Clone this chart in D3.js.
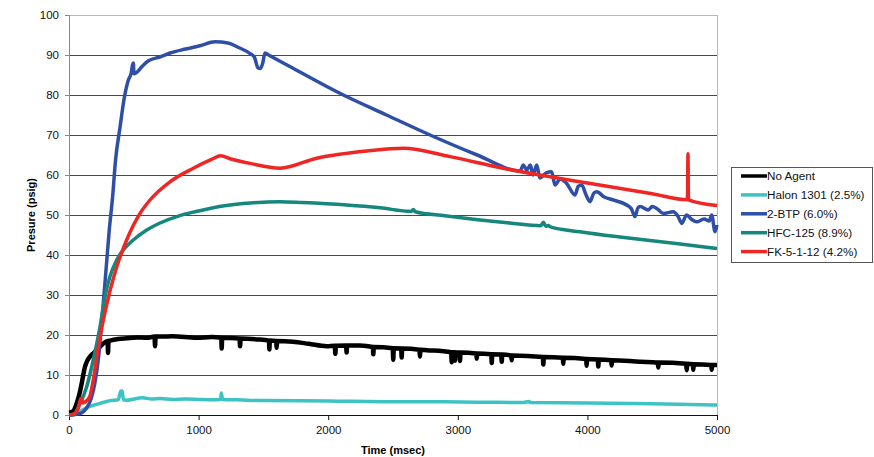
<!DOCTYPE html>
<html>
<head>
<meta charset="utf-8">
<script src="https://cdn.jsdelivr.net/npm/d3@7"></script>
<style>
  body { margin: 0; background: #fff; }
  text { font-family: "Liberation Sans", Arial, sans-serif; }
</style>
</head>
<body>
<div id="chart"></div>
<script>
// pressure traces, [time msec, pressure psig]
var noAgent = [
  [0,0.6],[30,0.9],[59,2.9],[80,5.2],[98,7.9],[110,10],[123,12],[140,13.5],[162,14.6],[190,15.5],[213,16.2],[240,17.1],[265,17.9],
  [298,18.5],[301,15.5],[305,18.5],[316,18.6],[380,19],[445,19.2],[520,19.4],[600,19.3],[660,19.6],[664,17.2],[668,19.6],[702,19.6],
  [800,19.7],[985,19.3],[1100,19.5],[1175,19.3],[1178,16.6],[1182,19.3],[1316,19.1],[1320,17.2],[1324,19.1],[1450,18.9],[1543,18.6],
  [1546,16.4],[1550,18.6],[1598,18.5],[1602,16.8],[1606,18.5],[1729,18.3],[1850,17.8],[1988,17.2],[2051,17.3],[2055,15.3],[2059,17.3],
  [2138,17.4],[2142,15.6],[2146,17.4],[2245,17.4],[2344,17],[2348,15.2],[2352,17],[2498,16.7],[2502,13.8],[2506,16.7],[2563,16.6],
  [2567,14.4],[2571,16.6],[2704,16.3],[2708,14.6],[2712,16.3],[2760,16.2],[2949,15.7],[2953,13.2],[2957,15.7],[2974,15.7],[2978,13.6],
  [2982,15.6],[3013,15.6],[3017,13.5],[3021,15.6],[3142,15.4],[3146,14.1],[3150,15.4],[3258,15.2],[3262,13.0],[3266,15.2],[3335,15.1],
  [3339,13.3],[3343,15.1],[3412,14.9],[3416,13.7],[3420,14.9],[3656,14.5],[3660,12.6],[3664,14.5],[3810,14.3],[3814,12.8],[3818,14.3],
  [3990,14],[3994,12.3],[3998,14],[4080,13.9],[4084,12.1],[4088,13.9],[4183,13.7],[4187,12.4],[4191,13.7],[4406,13.3],[4543,13.1],
  [4547,11.9],[4551,13.1],[4762,12.8],[4766,11.2],[4770,12.8],[4813,12.7],[4817,11.3],[4821,12.7],[4955,12.5],[4959,11.3],[4963,12.5],
  [5000,12.5]
];

var halon = [
  [0,0],[59,0.3],[100,1.2],[136,1.8],[187,2.4],[239,2.9],[316,3.6],[380,3.8],[400,6],[410,6],[420,3.8],[445,3.7],
  [566,4.3],[640,4.0],[702,4.1],[800,3.9],[900,4.0],[1000,3.9],[1100,3.8],[1170,3.9],[1175,5.5],[1185,3.9],[1300,3.8],[1500,3.6],
  [2000,3.5],[2500,3.3],[2862,3.3],[3200,3.2],[3500,3.1],[3550,3.4],[3560,3.1],[4000,3.0],[4500,2.8],[5000,2.5]
];

var btp = [
  [0,0],[80,0.3],[130,1.5],[170,4],[200,8],[230,15],[252,23],[270,30],[290,38],[310,46],[335,54],[360,64],[394,72],[425,79],
  [458,83.75],[480,85.5],[490,87.5],[496,88],[502,85.3],[520,85.6],[560,87],[610,88.5],[700,89.5],[780,90.5],[900,91.5],[1010,92.3],
  [1127,93.3],[1227,93],[1300,92],[1400,90.3],[1430,89.5],[1458,86.8],[1475,86.6],[1495,88],[1512,90.5],[1540,90],[1700,87.2],
  [2117,80],[2450,75],[2786,70],[3150,65],[3480,61],[3506,62.5],[3532,61.25],[3560,62.5],[3580,60],[3609,62.5],
  [3634,59.25],[3680,60.5],[3724,60.8],[3750,57.5],[3790,59],[3840,57.9],[3904,55],[3930,57.2],[3956,57.5],[3990,55],[4020,53.3],
  [4050,55.5],[4072,55.8],[4130,54.5],[4200,53.75],[4303,52.5],[4340,51.5],[4367,49.6],[4390,51.8],[4406,52.1],[4470,51.25],[4500,52.1],
  [4540,51.5],[4586,50.4],[4663,50.8],[4700,49.6],[4728,47.9],[4766,50],[4800,49],[4843,48.3],[4900,49],[4940,48.5],[4959,50],
  [4985,45.8],[5000,47.5]
];

var hfc = [
  [0,0],[30,0],[80,2.5],[136,7],[187,13.75],[239,22],[278,29.6],[316,34.6],[368,38.75],[419,41.25],[496,43.75],[600,46.25],[702,48],
  [850,49.8],[1000,51],[1200,52.3],[1400,53],[1628,53.3],[1800,53.1],[2143,52.5],[2400,51.8],[2640,50.9],[2657,51.4],[2672,50.8],
  [2900,49.8],[3171,48.75],[3400,48],[3640,47.3],[3660,48.2],[3680,47.2],[3700,47.4],[3710,47.1],[3943,45.8],[4300,44.3],[4700,42.8],
  [5000,41.6]
];

var fk = [
  [0,0],[40,0.3],[70,1.5],[92,4.2],[108,3],[130,3.4],[162,4.8],[187,8.75],[226,17],[265,23.75],[316,31],[368,37],[445,43.75],
  [548,50.4],[625,53.75],[779,58.3],[959,61.7],[1100,63.9],[1170,64.8],[1250,64],[1397,62.9],[1628,61.7],[1911,64.2],[2297,66],
  [2580,66.7],[2940,64.6],[3351,61.7],[3634,60],[4000,58],[4500,55.3],[4772,53.8],[4776,65.3],[4780,53.8],[5000,52.4]
];

var seriesNames = ["No Agent", "Halon 1301 (2.5%)", "2-BTP (6.0%)", "HFC-125 (8.9%)", "FK-5-1-12 (4.2%)"];
var seriesData = [noAgent, halon, btp, hfc, fk];
var seriesColors = ["#000000", "#3ec3c4", "#2f4fa6", "#15877d", "#ee2624"];

var xTicks = [0, 1000, 2000, 3000, 4000, 5000];
var yTicks = [0, 10, 20, 30, 40, 50, 60, 70, 80, 90, 100];

// plot area
var margin = {top: 15, right: 157, bottom: 42, left: 69},
    width = 874 - margin.left - margin.right,
    height = 457 - margin.top - margin.bottom;

var svg = d3.select("#chart")
  .append("svg").attr("width", 874).attr("height", 457)
  .append("g").attr("transform", "translate(" + margin.left + "," + margin.top + ")");

var x = d3.scaleLinear().domain([0, 5000]).range([0, width]);
var y = d3.scaleLinear().domain([0, 100]).range([height, 0]);

// gridlines
svg.append("g").selectAll("line")
  .data(yTicks.filter(function(d) { return d > 0; }))
  .enter().append("line")
    .attr("x1", 0).attr("x2", width)
    .attr("y1", function(d) { return Math.round(y(d)) + 0.5; })
    .attr("y2", function(d) { return Math.round(y(d)) + 0.5; })
    .attr("stroke", function(d) { return d == 100 ? "#b8b8b8" : "#4a4a4a"; })
    .attr("stroke-width", 1);

// right border
svg.append("line")
  .attr("x1", width + 0.5).attr("x2", width + 0.5)
  .attr("y1", y(100)).attr("y2", height + 5)
  .attr("stroke", "#b8b8b8");

// Y axis
var yAxis = svg.append("g").call(d3.axisLeft(y).tickValues(yTicks).tickSize(4).tickPadding(6));
yAxis.select(".domain").attr("stroke", "#888");
yAxis.selectAll(".tick line").attr("stroke", "#888");
yAxis.selectAll("text").style("font-size", "11.5px").attr("fill", "#111");

// X axis
var xAxis = svg.append("g").attr("transform", "translate(0," + height + ")")
  .call(d3.axisBottom(x).tickValues(xTicks).tickSize(5).tickPadding(6).tickFormat(d3.format("d")));
xAxis.select(".domain").attr("stroke", "#111");
xAxis.selectAll(".tick line").attr("stroke", "#111");
xAxis.selectAll("text").style("font-size", "11.5px").attr("fill", "#111");

// lines
var line = d3.line()
  .curve(d3.curveMonotoneX)
  .x(function(d) { return x(d[0]); })
  .y(function(d) { return y(d[1]); });

seriesData.forEach(function(s, i) {
  svg.append("path")
    .datum(s)
    .attr("fill", "none")
    .attr("stroke", seriesColors[i])
    .attr("stroke-width", i == 0 ? 4.5 : 3.5)
    .attr("stroke-linejoin", "round")
    .attr("d", line);
});

// axis titles
svg.append("text")
  .attr("transform", "rotate(-90)")
  .attr("x", -height / 2)
  .attr("y", -34)
  .style("text-anchor", "middle")
  .style("font-size", "11px")
  .style("font-weight", "bold")
  .text("Presure (psig)");

svg.append("text")
  .attr("x", width / 2)
  .attr("y", height + 39)
  .style("text-anchor", "middle")
  .style("font-size", "11px")
  .style("font-weight", "bold")
  .text("Time (msec)");

// legend
var legend = d3.select("svg").append("g").attr("transform", "translate(731,167)");
legend.append("rect")
  .attr("x", 0.5).attr("y", 0.5).attr("width", 141).attr("height", 95)
  .attr("fill", "#fff").attr("stroke", "#555");

var rows = legend.selectAll("g.row")
  .data(seriesNames)
  .enter().append("g")
    .attr("transform", function(d, i) { return "translate(0," + (9 + i * 18.9) + ")"; });

rows.append("line")
  .attr("x1", 10).attr("x2", 36)
  .attr("y1", 0).attr("y2", 0)
  .attr("stroke", function(d, i) { return seriesColors[i]; })
  .attr("stroke-width", 3.5);

rows.append("text")
  .attr("x", 36)
  .attr("dy", "0.36em")
  .style("font-size", "11.7px")
  .attr("fill", "#111")
  .text(function(d) { return d; });
</script>
</body>
</html>
